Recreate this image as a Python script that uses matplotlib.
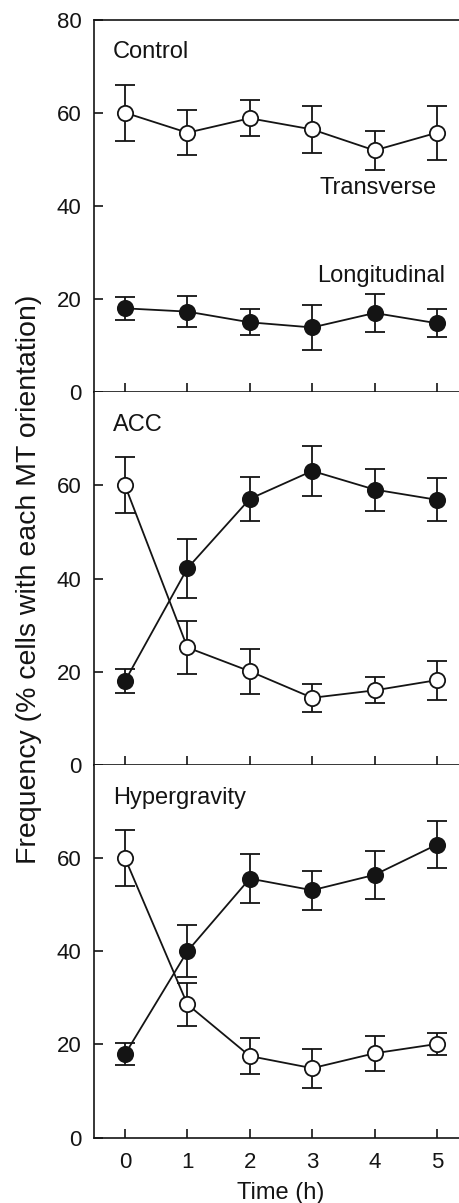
import matplotlib
matplotlib.use("Agg")
import matplotlib.pyplot as plt

plt.rcParams["font.family"] = ["Liberation Sans", "DejaVu Sans"]

# Sampling times (h)
time_h = [0, 1, 2, 3, 4, 5]
xtick_labels = ["0", "1", "2", "3", "4", "5"]
ytick_values = [0, 20, 40, 60, 80]

panel_names = ["Control", "ACC", "Hypergravity"]

# Transverse MT orientation (% cells), mean and error
control_transverse = [60.0, 55.7, 58.8, 56.4, 51.9, 55.7]
control_transverse_err = [6.0, 4.8, 3.9, 5.0, 4.2, 5.8]
acc_transverse = [60.0, 25.2, 20.1, 14.4, 16.0, 18.2]
acc_transverse_err = [6.0, 5.7, 4.8, 3.0, 2.8, 4.2]
hyper_transverse = [60.0, 28.6, 17.5, 14.9, 18.1, 20.1]
hyper_transverse_err = [6.0, 4.6, 3.8, 4.2, 3.7, 2.4]

# Longitudinal MT orientation (% cells), mean and error
control_longitudinal = [18.0, 17.3, 15.0, 13.9, 17.0, 14.8]
control_longitudinal_err = [2.4, 3.3, 2.8, 4.8, 4.1, 3.0]
acc_longitudinal = [18.0, 42.2, 57.1, 63.1, 59.1, 56.9]
acc_longitudinal_err = [2.5, 6.3, 4.8, 5.3, 4.5, 4.6]
hyper_longitudinal = [17.9, 40.0, 55.6, 53.1, 56.4, 62.9]
hyper_longitudinal_err = [2.4, 5.6, 5.2, 4.2, 5.2, 5.0]

transverse = [control_transverse, acc_transverse, hyper_transverse]
transverse_err = [control_transverse_err, acc_transverse_err, hyper_transverse_err]
longitudinal = [control_longitudinal, acc_longitudinal, hyper_longitudinal]
longitudinal_err = [control_longitudinal_err, acc_longitudinal_err, hyper_longitudinal_err]

W, H = 460, 1203
fig = plt.figure(figsize=(W / 100, H / 100), dpi=100)

ink = "#141414"
left_px, right_px = 93.8, 468.2
top_px, panel_h = 19.5, 372.7

axes = []
for i in range(3):
    top = top_px + i * panel_h
    ax = fig.add_axes([left_px / W, 1 - (top + panel_h) / H,
                       (right_px - left_px) / W, panel_h / H])
    axes.append(ax)

    common = dict(capsize=7, elinewidth=1.3, capthick=1.3, lw=1.3,
                  ms=11, mew=1.3, color=ink, mec=ink)
    ax.errorbar(time_h, longitudinal[i], yerr=longitudinal_err[i],
                fmt="o-", mfc=ink, zorder=3, **common)
    ax.errorbar(time_h, transverse[i], yerr=transverse_err[i],
                fmt="o-", mfc="white", zorder=4, **common)

    ax.set_xlim(-0.5, 5.5)
    ax.set_ylim(0, 80)
    ax.set_xticks(time_h)
    ax.set_yticks(ytick_values if i == 0 else ytick_values[:-1])
    ax.tick_params(direction="in", length=6.5, width=1.2, labelsize=16,
                   colors=ink, top=False, right=False)
    ax.tick_params(axis="y", pad=9)
    ax.tick_params(axis="x", pad=10.5)
    if i < 2:
        ax.set_xticklabels([])
    else:
        ax.set_xticklabels(xtick_labels)
        ax.set_xlabel("Time (h)", fontsize=17, color=ink, labelpad=6)

    for side in ("left", "bottom", "top"):
        ax.spines[side].set_linewidth(1.2)
        ax.spines[side].set_color(ink)
    ax.spines["right"].set_visible(False)
    if i > 0:
        ax.spines["top"].set_visible(False)

    ax.text(-0.19, 71.7, panel_names[i], fontsize=17, color=ink,
            ha="left", va="baseline")

axes[0].text(4.05, 42.5, "Transverse", fontsize=17, color=ink,
             ha="center", va="baseline")
axes[0].text(4.11, 23.7, "Longitudinal", fontsize=17, color=ink,
             ha="center", va="baseline")

fig.text(29 / W, 1 - 579 / H, "Frequency (% cells with each MT orientation)",
         rotation=90, ha="center", va="center", fontsize=20.5, color=ink)

fig.savefig("out.png", dpi=100)
